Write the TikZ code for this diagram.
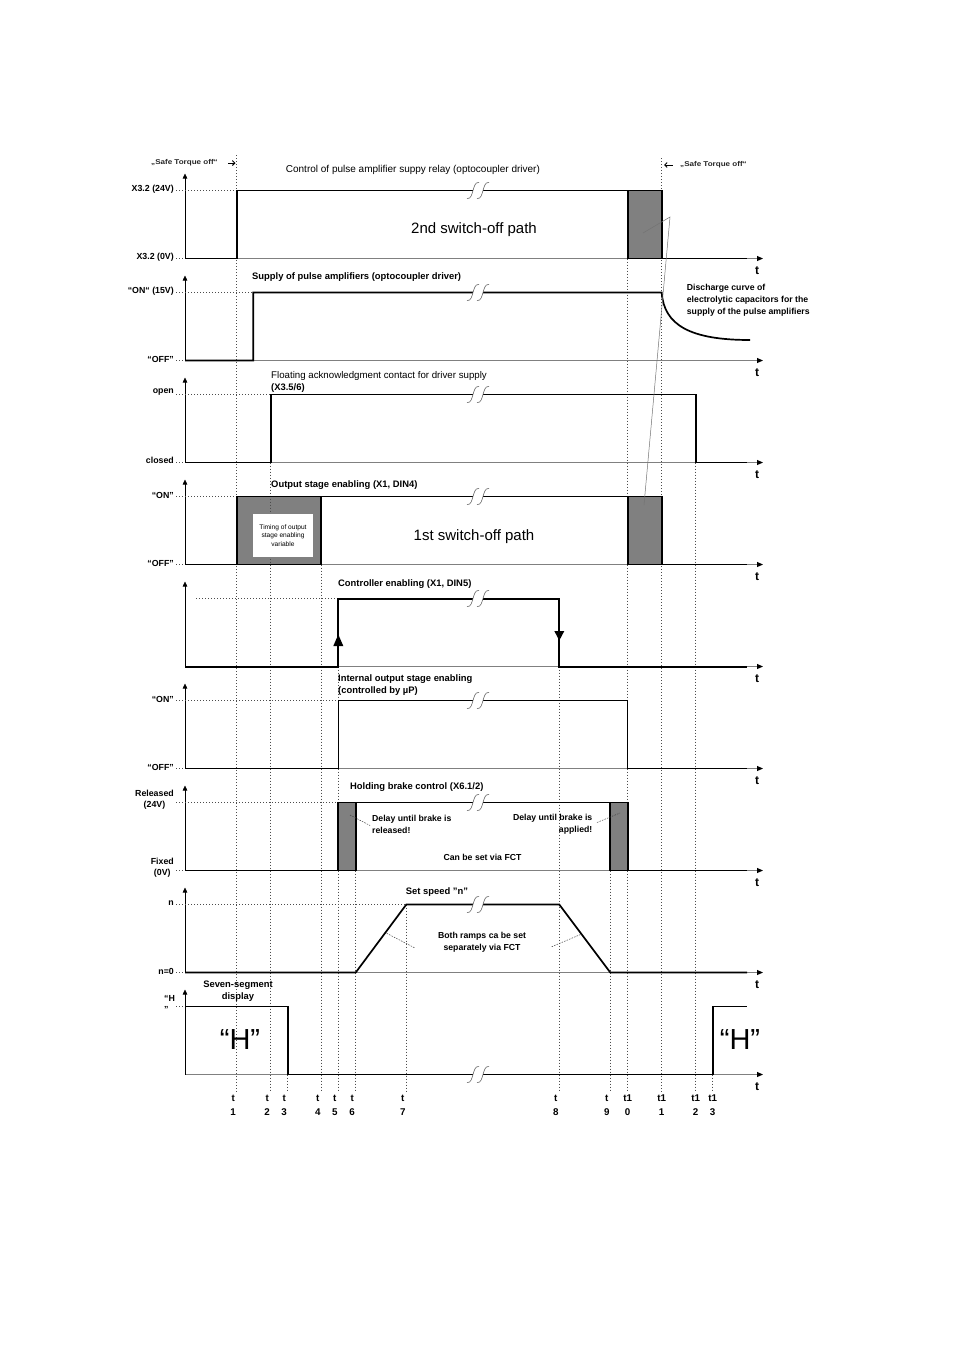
\documentclass[tikz,border=0pt]{standalone}
\usepackage{fontspec}
\setmainfont{Liberation Sans}
\usetikzlibrary{arrows.meta}
\begin{document}
\begin{tikzpicture}[x=1pt,y=-1pt,
  sig/.style={line width=1.7pt,line join=miter},
  axl/.style={line width=0.9pt,draw=black!50,-{Triangle[length=6pt,width=5pt,black]}},
  vax/.style={line width=0.6pt,-{Triangle[length=5pt,width=4.5pt]}},
  vdot/.style={line width=0.6pt,black!70,dash pattern=on 0.9pt off 2.1pt},
  hdot/.style={line width=0.6pt,black!70,dash pattern=on 0.9pt off 2.1pt},
  gfill/.style={fill=black!50},
  ylab/.style={font=\bfseries\fontsize{8.8}{11}\selectfont,inner sep=0pt,anchor=east},
  ttl/.style={font=\bfseries\fontsize{9.4}{12}\selectfont,inner sep=0pt,anchor=west},
  ttr/.style={font=\fontsize{10}{12}\selectfont,inner sep=0pt,anchor=west},
  note/.style={font=\bfseries\fontsize{8.7}{12}\selectfont,inner sep=0pt},
  bigt/.style={font=\fontsize{15}{18}\selectfont,inner sep=0pt},
  hbig/.style={font=\fontsize{29}{32}\selectfont,inner sep=0pt},
  tax/.style={font=\bfseries\fontsize{12}{14}\selectfont,inner sep=0pt},
  tlab/.style={font=\bfseries\fontsize{9.8}{11}\selectfont,inner sep=0pt},
  sto/.style={font=\bfseries\fontsize{7}{9}\selectfont,inner sep=0pt,black!85,xscale=1.15},
  stoarr/.style={line width=0.9pt,-{Straight Barb[length=2.5pt,width=5pt]}},
  lead/.style={line width=0.5pt,black!75,dash pattern=on 1.5pt off 1.2pt},
  brk/.pic={
    \fill[white] (-5,-3) rectangle (5,3);
    \draw[black!60,line width=0.6pt] (-11,8) .. controls (-7,9) and (-6,3) .. (-5,0) .. controls (-4,-3) and (-3,-9) .. (1,-8);
    \draw[black!60,line width=0.6pt] (-1,8) .. controls (3,9) and (4,3) .. (5,0) .. controls (6,-3) and (7,-9) .. (11,-8);
  }
]
\def\ttA{236.7}\def\ttB{270.7}\def\ttC{287.7}\def\ttD{321.3}\def\ttE{338.3}
\def\ttF{355.7}\def\ttG{406.3}\def\ttH{559.3}\def\ttI{610.3}\def\ttJ{627.7}
\def\ttK{661.7}\def\ttL{695.7}\def\ttM{712.7}
\fill[white] (0,0) rectangle (954,1350);
\useasboundingbox (0,0) rectangle (954,1350);

% gray boxes
\fill[gfill] (\ttJ,190.5) rectangle (\ttK,258.5);
\fill[gfill] (\ttA,496.5) rectangle (\ttD,564.5);
\fill[gfill] (\ttJ,496.5) rectangle (\ttK,564.5);
\fill[gfill] (\ttE,802.5) rectangle (\ttF,870.5);
\fill[gfill] (\ttI,802.5) rectangle (\ttJ,870.5);

% vertical dotted time lines
\foreach \xx/\ys in {\ttA/155,\ttB/462.5,\ttC/1074.5,\ttD/564.5,\ttE/666.5,\ttF/870.5,\ttG/904.5,\ttH/666.5,\ttI/870.5,\ttJ/258.5,\ttK/158,\ttL/462.5,\ttM/1074.5}
  \draw[vdot] (\xx,\ys) -- (\xx,1092);

% axes
\foreach \k in {0,...,8} {
  \pgfmathsetmacro\hh{190.5+102*\k}
  \pgfmathsetmacro\ll{\hh+68}
  \draw[axl] (185,\ll) -- (763,\ll);
  \draw[vax] (185,\ll) -- (185,\hh-17);
  \node[tax] (tax\k) at (757,\ll+12.5) {t};
}

% horizontal dotted guides
\draw[hdot] (176,190.5) -- (\ttA,190.5);  \draw[hdot] (176,258.5) -- (185,258.5);
\draw[hdot] (176,292.5) -- (253.3,292.5); \draw[hdot] (176,360.5) -- (185,360.5);
\draw[hdot] (176,394.5) -- (\ttB,394.5);  \draw[hdot] (176,462.5) -- (185,462.5);
\draw[hdot] (176,496.5) -- (\ttA,496.5);  \draw[hdot] (176,564.5) -- (185,564.5);
\draw[hdot] (196,598.5) -- (\ttE,598.5);
\draw[hdot] (176,700.5) -- (\ttE,700.5);  \draw[hdot] (176,768.5) -- (185,768.5);
\draw[hdot] (176,802.5) -- (\ttE,802.5);  \draw[hdot] (176,870.5) -- (185,870.5);
\draw[hdot] (176,904.5) -- (\ttG,904.5);  \draw[hdot] (176,972.5) -- (185,972.5);
\draw[hdot] (176,1006.5) -- (185,1006.5);

% P1
\draw[sig] (185,258.5) -- (\ttA,258.5) -- (\ttA,190.5) -- (\ttK,190.5) -- (\ttK,258.5) -- (747,258.5);
\draw[sig] (\ttJ,190.5) -- (\ttJ,258.5) -- (\ttK,258.5);
% P2
\draw[sig] (185,360.5) -- (253.3,360.5) -- (253.3,292.5) -- (\ttK,292.5) .. controls (664,325) and (690,340) .. (750,340);
% P3
\draw[sig] (185,462.5) -- (\ttB,462.5) -- (\ttB,394.5) -- (\ttL,394.5) -- (\ttL,462.5) -- (747,462.5);
% P4
\draw[sig] (185,564.5) -- (\ttA,564.5) -- (\ttA,496.5) -- (\ttK,496.5) -- (\ttK,564.5) -- (747,564.5);
\draw[sig] (\ttA,564.5) -- (\ttD,564.5) -- (\ttD,496.5);
\draw[sig] (\ttJ,496.5) -- (\ttJ,564.5) -- (\ttK,564.5);
% P5
\draw[sig,line width=2pt] (185,666.5) -- (\ttE,666.5) -- (\ttE,598.5) -- (\ttH,598.5) -- (\ttH,666.5) -- (747,666.5);
\fill (\ttE,634.5) -- (\ttE-5,646) -- (\ttE+5,646) -- cycle;
\fill (\ttH,640.5) -- (\ttH-5,631) -- (\ttH+5,631) -- cycle;
% P6
\draw[sig,line width=1.4pt] (185,768.5) -- (\ttE,768.5) -- (\ttE,700.5) -- (\ttJ,700.5) -- (\ttJ,768.5) -- (747,768.5);
% P7
\draw[sig] (185,870.5) -- (\ttE,870.5) -- (\ttE,802.5) -- (\ttJ,802.5) -- (\ttJ,870.5) -- (747,870.5);
\draw[sig] (\ttE,870.5) -- (\ttF,870.5) -- (\ttF,802.5);
\draw[sig] (\ttI,802.5) -- (\ttI,870.5) -- (\ttJ,870.5);
% P8
\draw[sig] (185,972.5) -- (\ttF,972.5) -- (\ttG,904.5) -- (\ttH,904.5) -- (\ttI,972.5) -- (747,972.5);
% P9
\draw[sig] (185,1006.5) -- (\ttC,1006.5) -- (\ttC,1074.5) -- (\ttM,1074.5) -- (\ttM,1006.5) -- (747,1006.5);

% breaks
\foreach \yy in {190.5,292.5,394.5,496.5,598.5,700.5,802.5,904.5,1074.5}
  \pic at (478,\yy) {brk};

% connector between switch-off boxes
\coordinate (c1) at (643,233);
\coordinate (c2) at (670,217);
\coordinate (c3) at (644,505);
\draw[black!55,line width=0.5pt] (c1) -- (c2) -- (c3);

% leaders
\coordinate (l1a) at (350,815); \coordinate (l1b) at (370,825.5);
\coordinate (l2a) at (597,822.5); \coordinate (l2b) at (620,813);
\coordinate (l3a) at (386.7,933.3); \coordinate (l3b) at (415,948);
\coordinate (l4a) at (551.7,946.7); \coordinate (l4b) at (581.7,934);
\draw[lead] (l1a) -- (l1b);
\draw[lead] (l2a) -- (l2b);
\draw[lead] (l3a) -- (l3b);
\draw[lead] (l4a) -- (l4b);

% white info box
\node[fill=white,minimum width=60pt,minimum height=43pt,align=center,inner sep=0pt,
      font=\fontsize{6.6}{8.8}\selectfont] (timing) at (283,535.5) {Timing of output\\stage enabling\\variable};

% safe torque off
\node[sto,anchor=west] (stoL) at (151,163) {„Safe Torque off“};
\coordinate (saL1) at (228,163); \coordinate (saL2) at (235.5,163);
\draw[stoarr] (saL1) -- (saL2);
\coordinate (saR1) at (672.5,165); \coordinate (saR2) at (664,165);
\draw[stoarr] (saR1) -- (saR2);
\node[sto,anchor=west] (stoR) at (680,165) {„Safe Torque off“};

% titles
\node[ttr] (ti1) at (285.7,170) {Control of pulse amplifier suppy relay (optocoupler driver)};
\node[ttl] (ti2) at (252,277) {Supply of pulse amplifiers (optocoupler driver)};
\node[ttr,font=\fontsize{9.7}{12}\selectfont] (ti3) at (271,376) {Floating acknowledgment contact for driver supply};
\node[ttl] (ti3b) at (271,388) {(X3.5/6)};
\node[ttl] (ti4) at (271,485) {Output stage enabling (X1, DIN4)};
\node[ttl] (ti5) at (338,584) {Controller enabling (X1, DIN5)};
\node[ttl,align=left] (ti6) at (338,685) {Internal output stage enabling\\(controlled by µP)};
\node[ttl] (ti7) at (350,787) {Holding brake control (X6.1/2)};
\node[ttl,anchor=center] (ti8) at (437,892) {Set speed "n"};
\node[ttl,anchor=center,align=center] (ti9) at (238,991) {Seven-segment\\display};

% notes
\node[note,anchor=west,align=left] (disc) at (686.7,300.5) {Discharge curve of\\electrolytic capacitors for the\\supply of the pulse amplifiers};
\node[note,anchor=west,align=left] (dl1) at (372,824) {Delay until brake is\\released!};
\node[note,anchor=east,align=right] (dl2) at (592.5,824) {Delay until brake is\\applied!};
\node[note] (fct) at (482.5,857) {Can be set via FCT};
\node[note,align=center] (ramps) at (482,942.5) {Both ramps ca be set\\separately via FCT};

% big texts
\node[bigt] (path2) at (474,229.5) {2nd switch-off path};
\node[bigt] (path1) at (474,536.5) {1st switch-off path};
\node[hbig] (hA) at (240,1040) {“H”};
\node[hbig] (hB) at (740,1040) {“H”};

% y labels
\node[ylab] (y1h) at (174,189.5) {X3.2 (24V)};
\node[ylab] (y1l) at (174,257.5) {X3.2 (0V)};
\node[ylab] (y2h) at (174,291.5) {“ON“ (15V)};
\node[ylab] (y2l) at (174,359.5) {“OFF”};
\node[ylab] (y3h) at (174,392.5) {open};
\node[ylab] (y3l) at (174,460.5) {closed};
\node[ylab] (y4h) at (174,495.5) {“ON”};
\node[ylab] (y4l) at (174,563.5) {“OFF”};
\node[ylab] (y6h) at (174,699.5) {“ON”};
\node[ylab] (y6l) at (174,767.5) {“OFF”};
\node[ylab,align=center] (y7h) at (174,800) {Released\\(24V)};
\node[ylab,align=center] (y7l) at (174,867.5) {Fixed\\(0V)};
\node[ylab] (y8h) at (174,903) {n};
\node[ylab] (y8l) at (174,971) {n=0};
\node[ylab,anchor=west,align=left] (y9h) at (164,1004) {“H\\”};

% bottom time labels
\foreach \xx/\nn in {\ttA/1,\ttB/2,\ttC/3,\ttD/4,\ttE/5,\ttF/6,\ttG/7,\ttH/8,\ttI/9} {
  \node[tlab] (bt\nn) at (\xx-3.5,1098) {t};
  \node[tlab] (bn\nn) at (\xx-3.5,1112) {\nn};
}
\foreach \xx/\nn in {\ttJ/0,\ttK/1,\ttL/2,\ttM/3} {
  \node[tlab] (btx\nn) at (\xx,1098) {t1};
  \node[tlab] (bnx\nn) at (\xx,1112) {\nn};
}
\end{tikzpicture}
\end{document}
